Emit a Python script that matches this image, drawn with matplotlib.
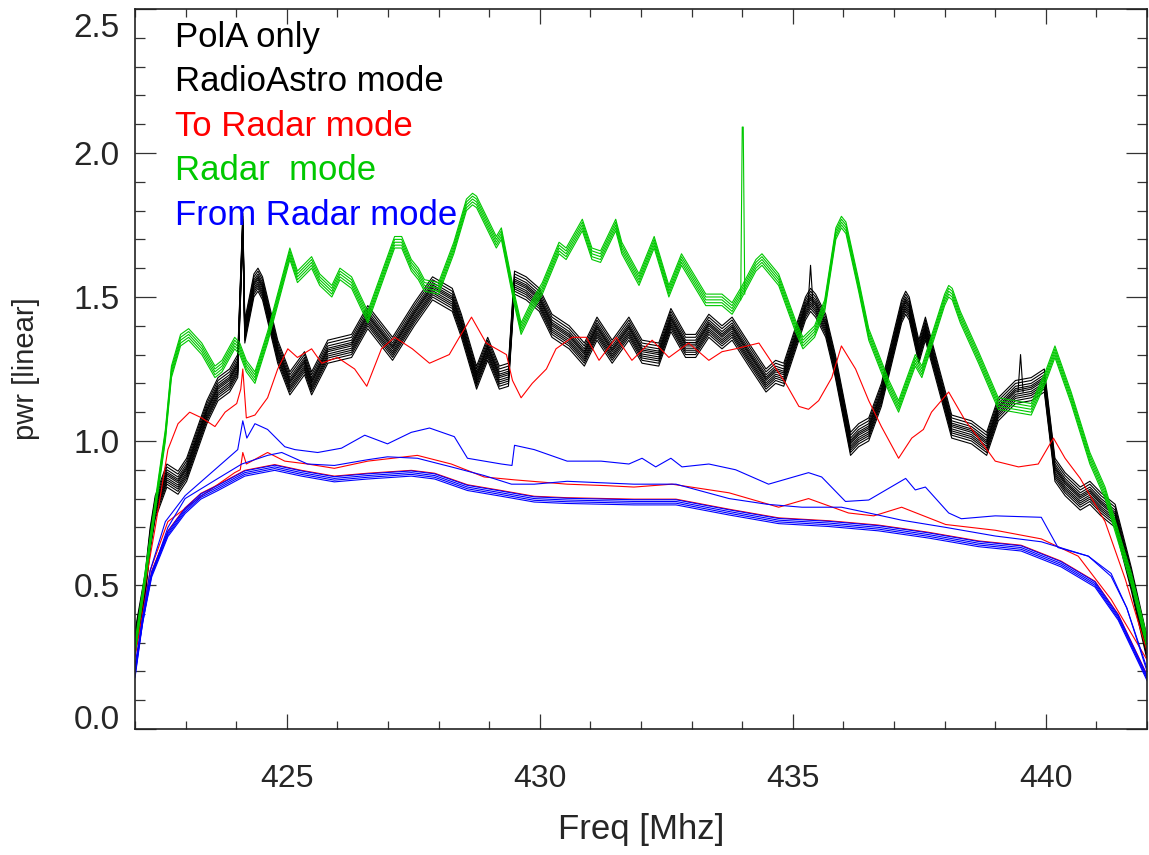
import matplotlib
matplotlib.use('Agg')
import matplotlib.pyplot as plt
from matplotlib.ticker import MultipleLocator
import matplotlib.transforms as mtransforms

# ---- data (freq in MHz, power linear) ----
black_x = [422.0, 422.2, 422.3, 422.4, 422.63, 422.85, 423.02, 423.42, 423.64, 423.87,
           424.03, 424.13, 424.17, 424.35, 424.43, 424.52, 424.82, 425.06, 425.35, 425.49,
           425.81, 426.28, 426.6, 427.09, 427.52, 427.88, 428.27, 428.45, 428.75, 428.97,
           429.2, 429.38, 429.5, 429.73, 429.99, 430.24, 430.58, 430.88, 431.13, 431.43,
           431.76, 432.02, 432.35, 432.59, 432.88, 433.08, 433.34, 433.6, 433.8, 434.13,
           434.47, 434.66, 434.82, 435.25, 435.35, 435.45, 435.65, 435.84, 436.14, 436.3,
           436.5, 436.75, 437.15, 437.23, 437.3, 437.49, 437.62, 438.14, 438.53, 438.83,
           439.06, 439.4, 439.71, 439.97, 440.18, 440.38, 440.68, 440.87, 441.09, 441.37,
           441.69, 442.0]
black_y = [0.30, 0.50, 0.66, 0.77, 0.88, 0.855, 0.90, 1.10, 1.18, 1.21,
           1.26, 1.75, 1.38, 1.54, 1.56, 1.53, 1.31, 1.20, 1.27, 1.20,
           1.31, 1.33, 1.43, 1.32, 1.44, 1.53, 1.49, 1.40, 1.22, 1.32,
           1.22, 1.23, 1.55, 1.53, 1.49, 1.40, 1.36, 1.30, 1.39, 1.31,
           1.39, 1.31, 1.30, 1.42, 1.33, 1.33, 1.40, 1.36, 1.39, 1.30,
           1.21, 1.24, 1.23, 1.46, 1.49, 1.47, 1.40, 1.26, 0.99, 1.02,
           1.04, 1.16, 1.45, 1.48, 1.46, 1.31, 1.39, 1.05, 1.03, 0.99,
           1.11, 1.17, 1.18, 1.21, 0.90, 0.85, 0.80, 0.82, 0.78, 0.74,
           0.52, 0.28]
black_offsets = [-0.04, -0.03, -0.022, -0.015, -0.008, 0.0, 0.006, 0.012, 0.02, 0.03, 0.04]
black_spike_x = [[435.30, 435.35, 435.40], [439.45, 439.50, 439.55]]
black_spike_y = [[1.47, 1.61, 1.47], [1.17, 1.30, 1.17]]

green_x = [422.0, 422.6, 422.72, 422.9, 423.06, 423.32, 423.58, 423.72, 423.97, 424.07,
           424.2, 424.37, 424.62, 425.06, 425.21, 425.49, 425.65, 425.89, 426.05, 426.28,
           426.6, 427.13, 427.27, 427.46, 427.6, 427.72, 428.0, 428.3, 428.55, 428.67,
           428.75, 429.14, 429.24, 429.5, 429.63, 429.85, 430.05, 430.38, 430.52, 430.84,
           431.03, 431.2, 431.5, 431.62, 431.96, 432.26, 432.55, 432.8, 433.28, 433.6,
           433.8, 434.0, 434.27, 434.39, 434.72, 435.05, 435.2, 435.43, 435.63, 435.85,
           435.96, 436.05, 436.3, 436.5, 436.9, 437.09, 437.42, 437.55, 438.0, 438.08,
           438.15, 438.31, 438.67, 439.06, 439.71, 439.99, 440.18, 440.5, 440.87, 441.17,
           441.69, 442.0]
green_y = [0.28, 1.02, 1.24, 1.35, 1.37, 1.32, 1.24, 1.26, 1.34, 1.32,
           1.26, 1.22, 1.36, 1.65, 1.57, 1.62, 1.56, 1.52, 1.58, 1.55,
           1.43, 1.69, 1.69, 1.61, 1.58, 1.54, 1.53, 1.67, 1.82, 1.84,
           1.83, 1.69, 1.72, 1.49, 1.39, 1.47, 1.53, 1.67, 1.65, 1.75,
           1.65, 1.64, 1.75, 1.67, 1.56, 1.69, 1.52, 1.63, 1.49, 1.49,
           1.46, 1.52, 1.61, 1.63, 1.56, 1.40, 1.34, 1.38, 1.47, 1.72,
           1.76, 1.74, 1.54, 1.37, 1.19, 1.12, 1.28, 1.24, 1.49, 1.52,
           1.51, 1.43, 1.29, 1.13, 1.11, 1.22, 1.31, 1.15, 0.94, 0.82,
           0.52, 0.30]
green_offsets = [-0.02, -0.01, 0.0, 0.01, 0.02]
green_spike_x = [433.97, 434.0, 434.02, 434.05]
green_spike_y = [1.49, 2.09, 2.09, 1.51]

red_up_x = [422.0, 422.2, 422.4, 422.65, 422.85, 423.08, 423.32, 423.58, 423.78, 424.01,
            424.09, 424.13, 424.2, 424.37, 424.62, 424.82, 425.02, 425.21, 425.49, 425.69,
            426.0, 426.34, 426.58, 426.87, 427.13, 427.48, 427.82, 428.21, 428.41, 428.65,
            428.94, 429.14, 429.34, 429.46, 429.63, 429.85, 430.13, 430.32, 430.64, 430.92,
            431.17, 431.51, 431.82, 432.22, 432.55, 432.94, 433.34, 433.6, 433.87, 434.33,
            434.52, 434.86, 435.12, 435.31, 435.51, 435.77, 435.96, 436.24, 436.5, 436.75,
            437.09, 437.35, 437.58, 437.74, 438.08, 438.41, 438.67, 439.0, 439.46, 439.85,
            440.15, 440.38, 440.68, 441.17, 441.57, 442.0]
red_up_y = [0.26, 0.50, 0.70, 0.97, 1.06, 1.10, 1.08, 1.05, 1.10, 1.13,
            1.18, 1.25, 1.08, 1.09, 1.15, 1.25, 1.32, 1.29, 1.32, 1.27,
            1.29, 1.25, 1.19, 1.32, 1.36, 1.32, 1.27, 1.30, 1.36, 1.43,
            1.34, 1.32, 1.30, 1.21, 1.15, 1.20, 1.25, 1.32, 1.36, 1.36,
            1.28, 1.36, 1.28, 1.35, 1.29, 1.34, 1.28, 1.31, 1.32, 1.34,
            1.29, 1.20, 1.12, 1.11, 1.14, 1.22, 1.33, 1.25, 1.14, 1.05,
            0.94, 1.01, 1.04, 1.10, 1.17, 1.07, 1.01, 0.93, 0.91, 0.92,
            1.01, 0.94, 0.87, 0.72, 0.52, 0.27]

red_mid_x = [422.0, 422.3, 422.65, 423.32, 423.97, 424.08, 424.13, 424.2, 424.62, 424.96,
             425.41, 425.94, 426.6, 427.58, 428.25, 428.9, 429.5, 430.54, 431.3, 431.86,
             432.61, 433.74, 434.72, 435.31, 436.1, 436.6, 437.15, 438.02, 439.0, 439.91,
             440.64, 441.29, 442.0]
red_mid_y = [0.25, 0.55, 0.72, 0.81, 0.89, 0.90, 0.96, 0.92, 0.96, 0.93,
             0.92, 0.905, 0.93, 0.95, 0.92, 0.875, 0.865, 0.85, 0.845, 0.84,
             0.85, 0.82, 0.77, 0.80, 0.75, 0.74, 0.77, 0.71, 0.69, 0.66,
             0.60, 0.45, 0.24]

blue_up_x = [422.0, 422.3, 422.6, 422.99, 423.64, 424.03, 424.13, 424.21, 424.37, 424.62,
             424.96, 425.16, 425.61, 426.08, 426.54, 426.99, 427.46, 427.82, 428.31, 428.57,
             429.24, 429.45, 429.5, 429.89, 430.54, 431.21, 431.76, 432.02, 432.29, 432.59,
             432.81, 433.34, 433.87, 434.52, 435.31, 435.57, 436.04, 436.5, 437.23, 437.42,
             437.62, 438.08, 438.33, 439.0, 439.91, 440.24, 440.84, 441.29, 441.6, 442.0]
blue_up_y = [0.22, 0.55, 0.72, 0.81, 0.91, 0.97, 1.07, 1.01, 1.06, 1.04,
             0.98, 0.97, 0.96, 0.975, 1.02, 0.99, 1.03, 1.045, 1.015, 0.94,
             0.92, 0.915, 0.985, 0.97, 0.93, 0.93, 0.92, 0.94, 0.91, 0.94,
             0.91, 0.92, 0.90, 0.85, 0.89, 0.875, 0.79, 0.795, 0.87, 0.83,
             0.84, 0.75, 0.73, 0.74, 0.735, 0.63, 0.60, 0.53, 0.42, 0.21]

blue_mid_x = [422.0, 422.3, 422.65, 422.99, 423.64, 424.11, 424.62, 424.9, 425.41, 425.94,
              426.6, 426.99, 427.58, 428.25, 428.9, 429.44, 429.89, 430.54, 431.86, 432.69,
              433.74, 434.5, 435.18, 435.96, 436.5, 437.15, 438.02, 439.0, 439.91, 440.84,
              441.29, 441.6, 442.0]
blue_mid_y = [0.21, 0.52, 0.70, 0.80, 0.87, 0.92, 0.95, 0.96, 0.92, 0.915,
              0.935, 0.945, 0.94, 0.91, 0.88, 0.85, 0.85, 0.86, 0.85, 0.85,
              0.80, 0.78, 0.77, 0.77, 0.75, 0.725, 0.70, 0.67, 0.65, 0.60,
              0.54, 0.42, 0.20]

base_x = [422.0, 422.15, 422.33, 422.65, 422.99, 423.3, 423.64, 424.17, 424.76, 425.29,
          425.94, 426.6, 427.46, 427.92, 428.57, 429.24, 429.89, 430.54, 431.86, 432.69,
          433.74, 434.72, 435.71, 436.69, 437.68, 438.67, 439.51, 440.3, 440.97, 441.43, 442.0]
base_y = [0.19, 0.38, 0.54, 0.68, 0.76, 0.81, 0.84, 0.89, 0.91, 0.89,
          0.87, 0.88, 0.89, 0.88, 0.84, 0.82, 0.80, 0.795, 0.79, 0.79,
          0.755, 0.725, 0.715, 0.70, 0.675, 0.645, 0.63, 0.575, 0.505, 0.39, 0.18]
blue_base_offsets = [-0.012, -0.006, 0.0, 0.006]
red_base_offset = 0.008

legend_lines = ['PolA only', 'RadioAstro mode', 'To Radar mode', 'Radar  mode', 'From Radar mode']
y_ticks = [0.0, 0.5, 1.0, 1.5, 2.0, 2.5]
y_ticklabels = ['0.0', '0.5', '1.0', '1.5', '2.0', '2.5']

GREEN = '#00c800'
RED = '#ff0000'
BLUE = '#0000ff'
TXT = '#262626'

plt.rcParams['font.family'] = ['Liberation Sans', 'DejaVu Sans']

fig = plt.figure(figsize=(11.49, 8.55), dpi=100)
ax = fig.add_axes([0.1175, 0.1474, 0.8808, 0.8421])

lw = 0.8
for off in black_offsets:
    ax.plot(black_x, [v + off for v in black_y], color='black', lw=lw)
for sx, sy in zip(black_spike_x, black_spike_y):
    ax.plot(sx, sy, color='black', lw=lw)

ax.plot(red_up_x, red_up_y, color=RED, lw=lw)
ax.plot(red_mid_x, red_mid_y, color=RED, lw=lw)
ax.plot(base_x, [v + red_base_offset for v in base_y], color=RED, lw=lw)

for off in green_offsets:
    ax.plot(green_x, [v + off for v in green_y], color=GREEN, lw=lw)
ax.plot(green_spike_x, green_spike_y, color=GREEN, lw=lw)

ax.plot(blue_up_x, blue_up_y, color=BLUE, lw=lw)
ax.plot(blue_mid_x, blue_mid_y, color=BLUE, lw=lw)
for off in blue_base_offsets:
    ax.plot(base_x, [v + off for v in base_y], color=BLUE, lw=lw)

ax.set_xlim(422, 442)
ax.set_ylim(0, 2.5)

ax.xaxis.set_major_locator(MultipleLocator(5))
ax.xaxis.set_minor_locator(MultipleLocator(1))
ax.yaxis.set_minor_locator(MultipleLocator(0.1))
# end labels are placed by hand (IDL keeps them inside the box)
ax.set_yticks(y_ticks)
ax.set_yticklabels([''] + y_ticklabels[1:-1] + [''])

ax.tick_params(axis='both', which='both', direction='in', top=True, right=True,
               color='#333333', width=0.9)
ax.tick_params(axis='x', which='major', length=11, pad=25, labelsize=23, labelcolor=TXT)
ax.tick_params(axis='x', which='minor', length=6)
ax.tick_params(axis='y', which='major', length=15, pad=11, labelsize=24, labelcolor=TXT)
ax.tick_params(axis='y', which='minor', length=7.5)
for lab in ax.get_yticklabels():
    lab.set_va('center_baseline')

trans = mtransforms.blended_transform_factory(ax.transAxes, ax.transData)
ax.text(-15 / 1012, y_ticks[0], y_ticklabels[0], transform=trans, ha='right', va='baseline',
        fontsize=24, color=TXT)
ax.text(-15 / 1012, y_ticks[-1] - 4 / 288, y_ticklabels[-1], transform=trans, ha='right',
        va='top', fontsize=24, color=TXT)

for s in ax.spines.values():
    s.set_linewidth(1.2)
    s.set_color('#222222')

ax.set_xlabel('Freq [Mhz]', fontsize=25, color=TXT, labelpad=14)
ax.set_ylabel('pwr [linear]', fontsize=21, color=TXT, labelpad=24)

leg_colors = ['black', 'black', RED, GREEN, BLUE]
for i, (txt, c) in enumerate(zip(legend_lines, leg_colors)):
    ax.text(0.04, 0.961 - i * 0.062, txt, transform=ax.transAxes, color=c,
            fontsize=25, va='center', ha='left')

fig.savefig('out.png', dpi=100)
